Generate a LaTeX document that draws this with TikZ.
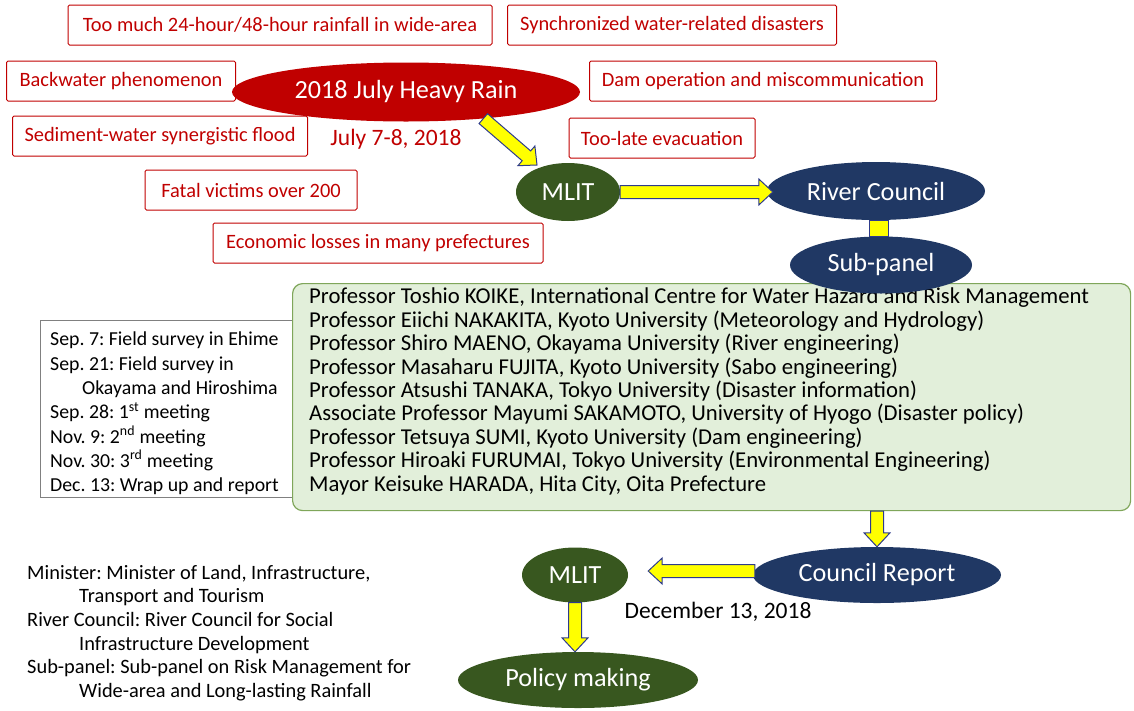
\documentclass[tikz,border=0pt]{standalone}
\usepackage{fontspec}
\setmainfont{Carlito}
\usepackage{tikz}
\usetikzlibrary{calc}
\usetikzlibrary{shapes.geometric}
\frenchspacing

\definecolor{rainred}{HTML}{C00000}
\definecolor{mlitgreen}{HTML}{38571F}
\definecolor{councilblue}{HTML}{203864}
\definecolor{panelfill}{HTML}{E2EFDA}
\definecolor{paneldraw}{HTML}{7FA65A}
\definecolor{arrowfill}{HTML}{FFFF00}
\definecolor{arrowdraw}{HTML}{2E3B8C}

\newcommand{\blockarrow}[2]{%
  \path (#1) coordinate (ba-s) (#2) coordinate (ba-t);
  \path ($(ba-t)!14pt!(ba-s)$) coordinate (ba-h);
  \draw[arrowbody]
    ($(ba-s)!6.5pt!90:(ba-t)$) -- ($(ba-h)!6.5pt!-90:(ba-s)$) -- ($(ba-h)!13pt!-90:(ba-s)$)
    -- (ba-t) -- ($(ba-h)!13pt!90:(ba-s)$) -- ($(ba-h)!6.5pt!90:(ba-s)$)
    -- ($(ba-s)!6.5pt!-90:(ba-t)$) -- cycle;}

\begin{document}
\begin{tikzpicture}[x=1pt,y=-1pt,
  issue/.style={draw=rainred,line width=1pt,text=rainred,rounded corners=1.5pt,
    font=\fontsize{20.4}{24}\selectfont,minimum height=40pt,inner sep=0pt},
  blob/.style={ellipse,inner sep=0pt,text=white,font=\fontsize{26.2}{30}\selectfont},
  heavyblob/.style={blob,fill=rainred},
  mlitblob/.style={blob,fill=mlitgreen},
  councilblob/.style={blob,fill=councilblue},
  arrowbody/.style={fill=arrowfill,draw=arrowdraw,line width=1pt,line join=miter},
  datetext/.style={font=\fontsize{23.5}{28}\selectfont},
  listtext/.style={anchor=north west,align=left,inner sep=0pt}]
  \useasboundingbox (0,0) rectangle (1134,710);

  \node[issue,minimum width=424pt] (rainfall) at (280,25) {Too much 24-hour/48-hour rainfall in wide-area};
  \node[issue,minimum width=329pt] (synchro) at (672,25) {Synchronized water-related disasters};
  \node[issue,minimum width=229pt] (backwater) at (121,81) {Backwater phenomenon};
  \node[issue,minimum width=347pt] (dam) at (763,81) {Dam operation and miscommunication};
  \node[issue,minimum width=295pt] (sediment) at (160,136) {Sediment-water synergistic flood};
  \node[issue,minimum width=186pt] (toolate) at (662,138) {Too-late evacuation};
  \node[issue,minimum width=212pt] (fatal) at (251,190) {Fatal victims over 200};
  \node[issue,minimum width=330pt] (economic) at (378,243) {Economic losses in many prefectures};

  \node[heavyblob,minimum width=348pt,minimum height=59pt] (heavy) at (406,92) {2018 July Heavy Rain};
  \node[datetext,text=rainred] (julydate) at (396,139) {July 7-8, 2018};

  \node[mlitblob,minimum width=104pt,minimum height=58pt] (mlit) at (568,192) {MLIT};
  \node[councilblob,minimum width=218pt,minimum height=58pt] (council) at (876,191) {River Council};

  \node[draw=black!50,line width=1.2pt,anchor=north west,minimum width=256pt,minimum height=177pt] (schedule) at (40,320) {};
  \node[listtext,font=\fontsize{19.8}{24.3}\selectfont] (schedulelist) at (50,332)
    {Sep. 7: Field survey in Ehime\\
     Sep. 21: Field survey in\\
     \hspace*{32pt}Okayama and Hiroshima\\
     Sep. 28: 1\textsuperscript{st} meeting\\
     Nov. 9: 2\textsuperscript{nd} meeting\\
     Nov. 30: 3\textsuperscript{rd} meeting\\
     Dec. 13: Wrap up and report};

  \node[draw=paneldraw,fill=panelfill,line width=1.2pt,rounded corners=10pt,anchor=north west,
    minimum width=838pt,minimum height=227pt] (members) at (292,283) {};
  \node[listtext,font=\fontsize{22.7}{23.4}\selectfont] (memberlist) at (309,288)
    {Professor Toshio KOIKE, International Centre for Water Hazard and Risk Management\\
     Professor Eiichi NAKAKITA, Kyoto University (Meteorology and Hydrology)\\
     Professor Shiro MAENO, Okayama University (River engineering)\\
     Professor Masaharu FUJITA, Kyoto University (Sabo engineering)\\
     Professor Atsushi TANAKA, Tokyo University (Disaster information)\\
     Associate Professor Mayumi SAKAMOTO, University of Hyogo (Disaster policy)\\
     Professor Tetsuya SUMI, Kyoto University (Dam engineering)\\
     Professor Hiroaki FURUMAI, Tokyo University (Environmental Engineering)\\
     Mayor Keisuke HARADA, Hita City, Oita Prefecture};

  \node[councilblob,minimum width=182pt,minimum height=57pt] (subpanel) at (881,265) {Sub-panel};
  \draw[arrowbody] ($(council.south)+(-7,0)$) rectangle ($(subpanel.north)+(7,0)$);

  \node[councilblob,minimum width=248pt,minimum height=56pt] (report) at (877,575) {Council Report};
  \node[mlitblob,minimum width=106pt,minimum height=55pt] (mlitpolicy) at (575,575) {MLIT};
  \node[datetext] (decdate) at (718,612) {December 13, 2018};
  \node[mlitblob,minimum width=240pt,minimum height=56pt] (policy) at (578,680) {Policy making};

  \node[listtext,font=\fontsize{20.4}{23.6}\selectfont] (legend) at (27,565)
    {Minister: Minister of Land, Infrastructure,\\
     \hspace*{52pt}Transport and Tourism\\
     River Council: River Council for Social\\
     \hspace*{52pt}Infrastructure Development\\
     Sub-panel: Sub-panel on Risk Management for\\
     \hspace*{52pt}Wide-area and Long-lasting Rainfall};

  \coordinate (mlittip) at ($(mlit.center)+(-31,-27)$);
  \coordinate (reporttail) at ($(report.west)+(2,-4)$);
  \coordinate (mlitpolicytip) at ($(mlitpolicy.east)+(20,-4)$);
  \blockarrow{heavy.-19}{mlittip}
  \blockarrow{mlit.east}{$(council.west |- mlit.east)+(6,0)$}
  \blockarrow{members.south -| report.north}{report.north}
  \blockarrow{reporttail}{mlitpolicytip}
  \blockarrow{mlitpolicy.south}{mlitpolicy.south |- policy.north}
\end{tikzpicture}
\end{document}
